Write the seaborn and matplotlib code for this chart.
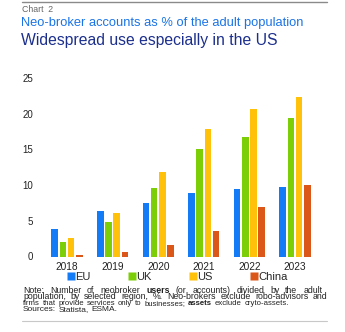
import numpy as np
import pandas as pd
import matplotlib
matplotlib.use("Agg")
import matplotlib.pyplot as plt
import seaborn as sns
from matplotlib.lines import Line2D

years = ["2018", "2019", "2020", "2021", "2022", "2023"]
eu = [3.9, 6.4, 7.55, 8.9, 9.5, 9.7]
uk = [2.05, 4.8, 9.6, 15.1, 16.7, 19.4]
us = [2.65, 6.1, 11.8, 17.9, 20.7, 22.4]
china = [0.25, 0.65, 1.55, 3.6, 6.9, 10.0]
regions = ["EU", "UK", "US", "China"]
colors = ["#147BF7", "#7CCE06", "#FFC10A", "#DB5619"]
yticks = [0, 5, 10, 15, 20, 25]

df = pd.DataFrame({"year": years, "EU": eu, "UK": uk, "US": us, "China": china})
long = df.melt(id_vars="year", var_name="region", value_name="value")

sns.set_theme(style="white")
plt.rcParams["font.family"] = ["Liberation Sans", "DejaVu Sans"]

W, H = 345, 332
fig = plt.figure(figsize=(W / 100, H / 100), dpi=100)
ax_left, ax_right = 44.2, 317.8
ax_top, ax_bot = 78.0, 256.5
ax = fig.add_axes([ax_left / W, 1 - ax_bot / H, (ax_right - ax_left) / W, (ax_bot - ax_top) / H])

sns.barplot(data=long, x="year", y="value", hue="region", hue_order=regions,
            palette=colors, width=0.72, gap=0.2, ax=ax, legend=False,
            saturation=1, edgecolor="none")
ax.set_ylim(0, 25)
ax.set_yticks(yticks)
ax.set_yticklabels([str(t) for t in yticks])
ax.set_xlim(-0.5, 5.5)
ax.set_xlabel("")
ax.set_ylabel("")
for s in ax.spines.values():
    s.set_visible(False)
ax.tick_params(axis="y", length=0, pad=8, labelsize=7, labelcolor="#222222")
ax.tick_params(axis="x", length=0, pad=4, labelsize=7.3, labelcolor="#222222")
ax.grid(False)

# legend
handles = [Line2D([0], [0], marker="s", linestyle="none", markersize=5.5,
                  markerfacecolor=c, markeredgecolor="none") for c in colors]
fig.legend(handles, regions, loc="center left", bbox_to_anchor=(67.5 / W, 1 - 277 / H),
           ncol=4, frameon=False, fontsize=8, handlelength=0.6, handletextpad=0.1,
           columnspacing=3.4, borderpad=0, borderaxespad=0)

# header
fig.add_artist(Line2D([22 / W, 327 / W], [1 - 2 / H, 1 - 2 / H], color="#8a8a8a", lw=1.0))
fig.text(22 / W, 1 - 9 / H, "Chart  2", fontsize=6.3, color="#666666", va="center", ha="left")
fig.text(21 / W, 1 - 23 / H, "Neo-broker accounts as % of the adult population",
         fontsize=9.3, color="#1A74E6", va="center", ha="left")
fig.text(21 / W, 1 - 41 / H, "Widespread use especially in the US",
         fontsize=11.3, color="#1C2F8C", va="center", ha="left")

# note (justified)
note_lines = [
    [("Note:", False), ("Number", False), ("of", False), ("neobroker", False), ("users", True),
     ("(or", False), ("accounts)", False), ("divided", False), ("by", False), ("the", False),
     ("adult", False)],
    [("population,", False), ("by", False), ("selected", False), ("region,", False), ("%.", False),
     ("Neo-brokers", False), ("exclude", False), ("robo-advisors", False), ("and", False)],
    [("firms", False), ("that", False), ("provide", False), ("services", False), ("only", False),
     ("to", False), ("businesses;", False), ("assets", True), ("exclude", False),
     ("cryto-assets.", False)],
    [("Sources:", False), ("Statista,", False), ("ESMA.", False)],
]
right_edges = [322.5, 327.5, 288.5, None]
note_sizes = [6.3, 6.3, 5.6, 6.0]
note_base = [292.6, 298.8, 305.0, 311.2]
x0 = 23.0 / W
fig.canvas.draw()
renderer = fig.canvas.get_renderer()
inv = fig.transFigure.inverted()


def fw(t):
    return t.get_window_extent(renderer).transformed(inv).width


for words, x1, fs_note, yy in zip(note_lines, right_edges, note_sizes, note_base):
    tmp1 = fig.text(0, 0, "a a", fontsize=fs_note)
    tmp2 = fig.text(0, 0, "aa", fontsize=fs_note)
    space = fw(tmp1) - fw(tmp2)
    tmp1.remove()
    tmp2.remove()
    texts = []
    for w, bold in words:
        t = fig.text(0, 1 - yy / H, w, fontsize=fs_note, color="#222222",
                     fontweight="bold" if bold else "normal", va="baseline", ha="left")
        texts.append(t)
    widths = [fw(t) for t in texts]
    if x1 is not None and len(texts) > 1:
        gap = (x1 / W - x0 - sum(widths)) / (len(texts) - 1)
        gap = max(gap, 0.5 * space)
    else:
        gap = space
    x = x0
    for t, wdt in zip(texts, widths):
        t.set_x(x)
        x += wdt + gap

fig.add_artist(Line2D([22 / W, 327 / W], [1 - 321 / H, 1 - 321 / H], color="#c8c8c8", lw=0.8))

fig.savefig("out.png", dpi=100)
